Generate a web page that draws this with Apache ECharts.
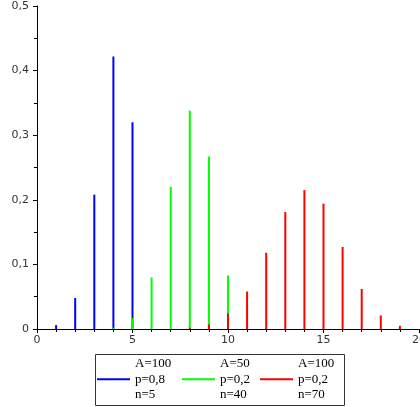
<!DOCTYPE html>
<html>
<head>
<meta charset="utf-8">
<script src="https://cdn.jsdelivr.net/npm/echarts@6/dist/echarts.min.js"></script>
<style>html,body{margin:0;padding:0;background:#fff}#c{width:420px;height:407px}</style>
</head>
<body>
<div id="c"></div>
<script>
// Series data: [x, probability]
var blueX = [1, 2, 3, 4, 5];
var blueY = [0.006, 0.048, 0.208, 0.422, 0.320];
var greenX = [4, 5, 6, 7, 8, 9, 10];
var greenY = [0.002, 0.017, 0.080, 0.220, 0.338, 0.267, 0.083];
var redX = [8, 9, 10, 11, 12, 13, 14, 15, 16, 17, 18, 19];
var redY = [0.002, 0.007, 0.024, 0.058, 0.118, 0.181, 0.215, 0.194, 0.127, 0.062, 0.021, 0.005];
var seriesNames = ['blue', 'green', 'red'];
var legendTexts = [
  ['A=100', 'p=0,8', 'n=5'],
  ['A=50', 'p=0,2', 'n=40'],
  ['A=100', 'p=0,2', 'n=70']
];
var xTicks = [0, 5, 10, 15, 20];
var yTicks = [0, 0.1, 0.2, 0.3, 0.4, 0.5];

function pairs(xs, ys) { return xs.map(function (x, i) { return [x, ys[i]]; }); }

var chart = echarts.init(document.getElementById('c'), null, {renderer: 'canvas'});
var colors = ['#0000ff', '#00ff00', '#ff0000'];
var datas = [pairs(blueX, blueY), pairs(greenX, greenY), pairs(redX, redY)];
var legendLeft = [97, 182, 260];

var option = {
  animation: false,
  backgroundColor: '#ffffff',
  grid: {left: 37, right: 1, top: 6, bottom: 78, containLabel: false, outerBoundsMode: 'none'},
  xAxis: {
    type: 'value', min: xTicks[0], max: xTicks[xTicks.length - 1], interval: 5,
    axisLine: {lineStyle: {color: '#000', width: 1}},
    axisTick: {show: true, length: 4, lineStyle: {color: '#000'}},
    minorTick: {show: true, splitNumber: 5, length: 3, lineStyle: {color: '#000'}},
    splitLine: {show: false},
    axisLabel: {color: '#333', fontFamily: 'DejaVu Sans', fontSize: 11, margin: 6}
  },
  yAxis: {
    type: 'value', min: yTicks[0], max: yTicks[yTicks.length - 1], interval: 0.1,
    axisLine: {show: true, lineStyle: {color: '#000', width: 1}},
    axisTick: {show: true, length: 4, lineStyle: {color: '#000'}},
    minorTick: {show: true, splitNumber: 2, length: 3, lineStyle: {color: '#000'}},
    splitLine: {show: false},
    axisLabel: {
      color: '#333', fontFamily: 'DejaVu Sans', fontSize: 11, margin: 8,
      formatter: function (v) { return (Math.round(v * 10) / 10).toString().replace('.', ','); }
    }
  },
  legend: seriesNames.map(function (n, i) {
    return {
      data: [n], left: legendLeft[i], top: 356, padding: 0,
      icon: 'rect', itemWidth: 33, itemHeight: 2,
      formatter: function () { return legendTexts[i].join('\n'); },
      textStyle: {fontFamily: 'Liberation Serif', fontSize: 13, lineHeight: 15.5, color: '#000'},
      selectedMode: false
    };
  }),
  graphic: [{
    type: 'rect', left: 93, top: 352, z: 0,
    shape: {width: 249, height: 51},
    style: {fill: 'none', stroke: '#333', lineWidth: 1}
  }],
  series: seriesNames.map(function (n, i) {
    return {
      name: n, type: 'bar', data: datas[i], barWidth: 2, barGap: '-100%',
      itemStyle: {color: colors[i]}, z: 2 + i
    };
  })
};
chart.setOption(option);
</script>
</body>
</html>
